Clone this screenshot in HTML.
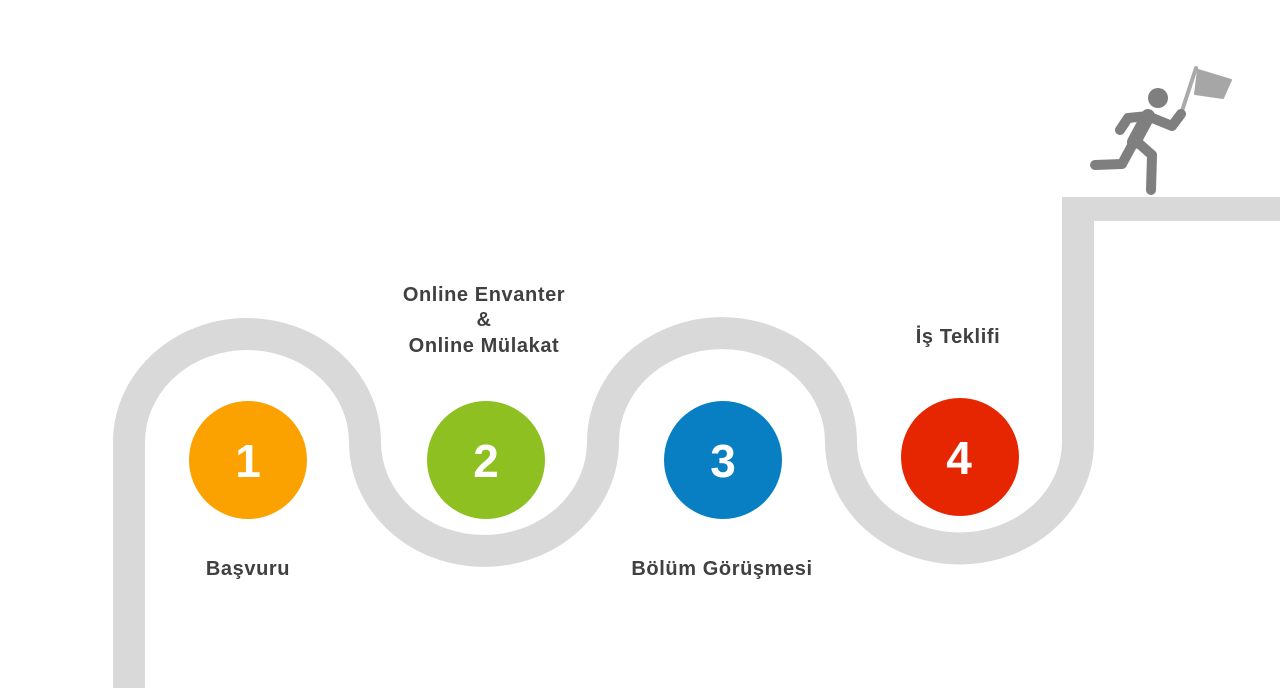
<!DOCTYPE html>
<html><head><meta charset="utf-8"><style>
html,body{margin:0;padding:0;background:#fff;width:1280px;height:688px;overflow:hidden}
svg{display:block}
text{font-family:"Liberation Sans",Arial,sans-serif;font-weight:bold;fill:#404040;font-size:20px;text-anchor:middle;letter-spacing:0.6px}
.n{fill:#fff;font-size:46px;letter-spacing:0}
</style></head><body>
<svg width="1280" height="688" viewBox="0 0 1280 688">
<path d="M129,688 L129,442 A118,108 0 0 1 365,442 A118,108 0 0 0 603,442 A118,108 0 0 1 841,442 A118,106 0 0 0 1078,442 L1078,209" fill="none" stroke="#d9d9d9" stroke-width="32"/>
<rect x="1062" y="197" width="218" height="24" fill="#d9d9d9"/>
<circle cx="248" cy="460" r="59" fill="#FBA200"/>
<circle cx="486" cy="460" r="59" fill="#8EC021"/>
<circle cx="723" cy="460" r="59" fill="#077FC2"/>
<circle cx="960" cy="457" r="59" fill="#E52600"/>
<text class="n" x="248" y="477">1</text>
<text class="n" x="486" y="477">2</text>
<text class="n" x="723" y="477">3</text>
<text class="n" x="959" y="474">4</text>
<text x="248" y="575">Başvuru</text>
<text x="722" y="575">Bölüm Görüşmesi</text>
<text x="484" y="301">Online Envanter</text>
<text x="484" y="326">&amp;</text>
<text x="484" y="352">Online Mülakat</text>
<text x="958" y="343">İş Teklifi</text>
<g stroke-linecap="round" stroke-linejoin="round" fill="none">
<line x1="1181" y1="114" x2="1196" y2="68" stroke="#aaa" stroke-width="4"/>
<polygon points="1198,70 1231,80 1223,98 1195,94" fill="#a6a6a6" stroke="#a6a6a6" stroke-width="2"/>
<circle cx="1158" cy="98" r="10" fill="#7f7f7f"/>
<g stroke="#7f7f7f" stroke-width="10">
<polyline points="1120,130 1128,118 1148,116 1135,140"/>
<polyline points="1150,117 1172,126 1181,114"/>
<polyline points="1095,165 1122,164 1135,140 1152,155 1151,190"/>
</g>
<line x1="1148" y1="116" x2="1134" y2="142" stroke="#7f7f7f" stroke-width="14"/>
</g>
</svg>
</body></html>
